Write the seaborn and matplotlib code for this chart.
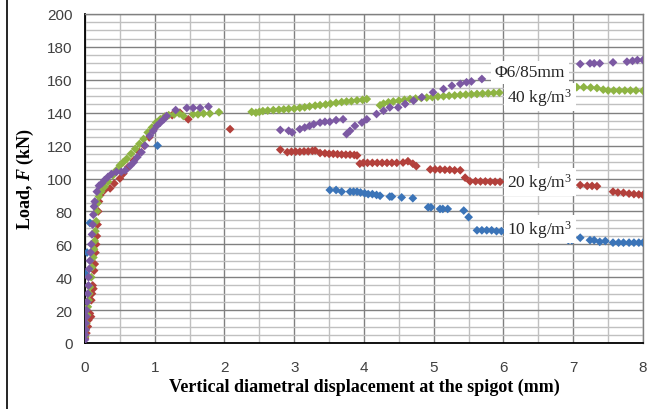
import seaborn as sns
import matplotlib.pyplot as plt
import pandas as pd
import numpy as np
from matplotlib.lines import Line2D
from matplotlib.ticker import MultipleLocator

# Data: load vs vertical diametral displacement at the spigot
x_10 = [0.0, 0.0, 0.01, 0.03, 0.07, 1.04,
        3.51, 3.6, 3.68, 3.8, 3.85, 3.9, 3.95, 4.01, 4.06, 4.12, 4.18, 4.23, 4.37, 4.4,
        4.54, 4.7, 4.92, 4.96, 5.09, 5.13, 5.2, 5.43, 5.5, 5.62, 5.69, 5.76, 5.83, 5.9,
        5.97, 6.2, 6.5, 6.8, 6.93, 6.98, 7.1, 7.24, 7.3, 7.38, 7.46, 7.57, 7.65, 7.72,
        7.8, 7.87, 7.94, 8.0]
F_10 = [4, 8.5, 42, 55, 73, 120,
        93, 93, 92, 92, 92, 92, 91.5, 91, 90.5, 90.5, 90, 89.5, 89, 89,
        88.5, 88, 82.5, 82.5, 81.5, 81.5, 81.5, 80.5, 76.5, 68.5, 68.5, 68.5, 68.5, 68,
        68, 67, 66, 65, 62.5, 62.5, 64, 62.5, 62.5, 61.5, 62, 61, 61, 61,
        61, 61, 61, 61]

x_20 = [0.0, 0.02, 0.04, 0.05, 0.07, 0.086, 0.09, 0.1, 0.11, 0.12, 0.13, 0.14, 0.15, 0.16,
        0.17, 0.18, 0.19, 0.2, 0.22, 0.28, 0.36, 0.42, 0.5, 0.55, 0.62, 0.7, 0.78, 0.85,
        0.92, 0.98, 1.05, 1.15, 1.25, 1.36, 1.48, 2.08,
        2.8, 2.9, 2.96, 3.02, 3.08, 3.14, 3.2, 3.26, 3.3, 3.37, 3.44, 3.5, 3.56, 3.62,
        3.68, 3.74, 3.8, 3.86, 3.9, 3.94, 3.99, 4.05, 4.12, 4.19, 4.26, 4.33, 4.4, 4.47,
        4.56, 4.63, 4.7, 4.75, 4.95, 5.02, 5.09, 5.16, 5.23, 5.3, 5.38, 5.45, 5.52, 5.6,
        5.67, 5.74, 5.81, 5.88, 5.95, 6.2, 6.5, 6.8, 7.1, 7.2, 7.27, 7.34, 7.57, 7.64,
        7.72, 7.8, 7.87, 7.94, 8.0]
F_20 = [3, 6, 10, 14, 18, 16, 26, 30, 35, 33, 44, 48, 55, 60,
        65, 72, 80, 86, 90, 93, 94, 97, 100, 103, 107, 111, 116, 120,
        125, 130, 134, 137.5, 138.5, 140, 136, 130,
        117.5, 116, 116.3, 116.3, 116.3, 116.5, 116.5, 116.8, 117, 115.5, 115.3, 115, 115, 114.8,
        114.6, 114.5, 114.5, 114.3, 114, 109, 109.5, 109.5, 109.5, 109.5, 109.5, 109.5, 109.5, 109.5,
        109.7, 110.5, 109, 107.5, 105.5, 105.5, 105.5, 105.3, 105.3, 105, 105, 100.5, 98.3, 98.3,
        98.2, 98.2, 98.1, 98, 98, 97.5, 97, 96.5, 96, 95.5, 95.5, 95.3, 92, 91.5,
        91.3, 90.8, 90.5, 90.3, 90]

x_40 = [0.0, 0.01, 0.02, 0.03, 0.04, 0.05, 0.06, 0.07, 0.09, 0.1, 0.12, 0.13, 0.14, 0.15,
        0.16, 0.17, 0.18, 0.2, 0.23, 0.28, 0.33, 0.4, 0.45, 0.5, 0.55, 0.6, 0.66, 0.72,
        0.78, 0.84, 0.9, 0.96, 1.02, 1.08, 1.14, 1.2, 1.28, 1.35, 1.41, 1.55, 1.62, 1.7,
        1.79, 1.92,
        2.39, 2.45, 2.5, 2.55, 2.62, 2.7, 2.78, 2.85, 2.92, 3.0, 3.08, 3.15, 3.22, 3.3,
        3.37, 3.45, 3.52, 3.6, 3.68, 3.75, 3.82, 3.9, 3.98, 4.04,
        4.23, 4.28, 4.35, 4.42, 4.5, 4.58, 4.66, 4.74, 4.82, 4.9, 4.98, 5.06, 5.14, 5.22,
        5.3, 5.38, 5.46, 5.54, 5.62, 5.7, 5.78, 5.86, 5.94, 6.1, 6.4, 6.7, 6.95,
        7.05, 7.15, 7.25, 7.34, 7.43, 7.5, 7.58, 7.66, 7.74, 7.82, 7.9, 8.0]
F_40 = [4, 8, 12, 17, 22, 26, 30, 34, 40, 46, 52, 57, 62, 68,
        74, 80, 85, 89, 92, 95, 98, 102, 105, 108, 110, 112, 115, 118,
        121, 124, 128, 131, 134, 136, 137.5, 138.5, 139, 139.5, 138, 139, 139, 139.5,
        139.5, 140.3,
        140.5, 140, 140.5, 141, 141.3, 141.6, 141.8, 142, 142.3, 142.5, 143, 143.3, 143.8, 144.3,
        144.6, 145, 145.5, 146, 146.5, 146.8, 147, 147.5, 147.8, 148.3,
        144.5, 145.5, 146.3, 146.8, 147.3, 147.8, 148.3, 148.6, 149, 149.2, 149.5, 149.8, 150, 150.3,
        150.5, 150.8, 151, 151.2, 151.4, 151.6, 151.8, 152, 152.2, 152.5, 153, 154, 155,
        155.5, 155.5, 155.3, 155, 154, 153.5, 153.5, 153.5, 153.5, 153.5, 153.5, 153.3]

x_phi = [0.0, 0.0, 0.01, 0.01, 0.02, 0.02, 0.03, 0.04, 0.05, 0.05, 0.06, 0.07, 0.08, 0.09,
         0.1, 0.11, 0.12, 0.13, 0.14, 0.17, 0.2, 0.24, 0.28, 0.33, 0.38, 0.45, 0.52, 0.58,
         0.65, 0.7, 0.75, 0.81, 0.86, 0.93, 0.98, 1.03, 1.08, 1.13, 1.17, 1.3, 1.46, 1.55,
         1.65, 1.77,
         2.8, 2.92, 2.97, 3.08, 3.15, 3.22, 3.28, 3.37, 3.44, 3.51, 3.6, 3.7,
         3.75, 3.8, 3.87, 3.97, 4.04, 4.18, 4.28, 4.37, 4.49, 4.59, 4.71, 4.83, 4.99, 5.14,
         5.26, 5.38, 5.47, 5.54, 5.69, 6.0, 6.4, 6.8,
         7.1, 7.24, 7.3, 7.38, 7.57, 7.77, 7.85, 7.92, 8.0]
F_phi = [2, 5, 8, 12, 16, 20, 25, 30, 35, 40, 45, 50, 55, 60,
         66, 72, 78, 83, 86, 92, 95.6, 97, 99, 101, 102.7, 104, 104, 105,
         107.8, 110, 113, 116, 120, 126, 129, 132, 134, 136, 138, 141.6, 142.9, 142.9,
         142.9, 143.7,
         129.5, 129, 128, 130, 131, 132, 133, 134, 134.5, 134.5, 135.5, 136,
         127, 129, 132, 134, 136, 139.2, 141.2, 143.2, 143.2, 145.3, 147.3, 149.4, 152.4, 154.4,
         156.4, 157.5, 158.5, 159, 160.5, 163, 166, 168,
         169.6, 170, 170, 170, 170.6, 171, 171.5, 172, 172]

series = ['10 kg/m$^3$', '20 kg/m$^3$', '40 kg/m$^3$', 'Φ6/85mm']
colors = ['#3B74B8', '#B3403B', '#8EB443', '#7C59A3']

df = pd.concat([
    pd.DataFrame({'disp': x_10, 'load': F_10, 'series': series[0]}),
    pd.DataFrame({'disp': x_20, 'load': F_20, 'series': series[1]}),
    pd.DataFrame({'disp': x_40, 'load': F_40, 'series': series[2]}),
    pd.DataFrame({'disp': x_phi, 'load': F_phi, 'series': series[3]}),
], ignore_index=True)

sns.set_style('white')
plt.rcParams['font.family'] = ['Liberation Sans', 'DejaVu Sans']
plt.rcParams['mathtext.fontset'] = 'custom'
plt.rcParams['mathtext.rm'] = 'Liberation Serif'
plt.rcParams['mathtext.it'] = 'Liberation Serif:italic:bold'
plt.rcParams['mathtext.bf'] = 'Liberation Serif:bold'

fig = plt.figure(figsize=(6.57, 4.10), dpi=100)
ax = fig.add_axes([85 / 657, 1 - 344 / 410, (643 - 85) / 657, (344 - 15) / 410])

sns.scatterplot(data=df, x='disp', y='load', hue='series', palette=colors,
                marker='D', s=20, linewidth=0, legend=False, ax=ax, zorder=3)

ax.set_xlim(0, 8)
ax.set_ylim(0, 200)
ax.xaxis.set_major_locator(MultipleLocator(1))
ax.yaxis.set_major_locator(MultipleLocator(20))
ax.xaxis.set_minor_locator(MultipleLocator(0.5))
ax.yaxis.set_minor_locator(MultipleLocator(5))
ax.tick_params(which='both', length=0)
ax.tick_params(axis='y', pad=9)
ax.tick_params(axis='x', pad=12)

# grid: minor every 0.5 mm / 5 kN, major every 1 mm / 20 kN
ax.grid(True, which='minor', color='silver', linewidth=1.0, zorder=1)
ax.grid(True, which='major', color='gray', linewidth=1.0, zorder=1)
ax.set_axisbelow(True)

for lab in ax.get_xticklabels() + ax.get_yticklabels():
    lab.set_fontfamily('Liberation Sans')
    lab.set_fontsize(11)
    lab.set_color('#404040')

for side in ['top', 'right']:
    ax.spines[side].set_color('gray')
    ax.spines[side].set_linewidth(1.0)
for side in ['left', 'bottom']:
    ax.spines[side].set_color('black')
    ax.spines[side].set_linewidth(1.3)

ax.set_xlabel('Vertical diametral displacement at the spigot (mm)',
              family='Liberation Serif', weight='bold', fontsize=13, labelpad=3,
              color='black')
ax.set_ylabel('Load, $F$ (kN)', family='Liberation Serif', weight='bold',
              fontsize=13, labelpad=8, color='black')

# Series labels
label_pos = [(6.52, 69.3), (6.52, 97.9), (6.52, 149.5), (6.38, 164.7)]
for text, (lx, ly) in zip(series, label_pos):
    ax.text(lx, ly, text, family='Liberation Serif', fontsize=12.5, ha='center',
            va='center', zorder=4,
            bbox=dict(facecolor='white', edgecolor='none', pad=2.5))

# Left border of the figure
fig.add_artist(Line2D([6.5 / 657, 6.5 / 657], [0, 1], color='black', linewidth=1.2))

plt.savefig('out.png', dpi=100)
